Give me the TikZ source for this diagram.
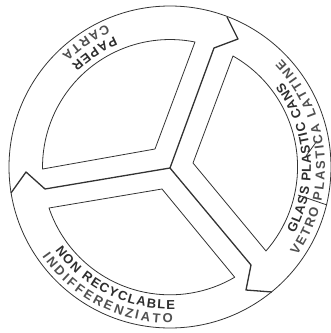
\documentclass[tikz,border=0pt]{standalone}
\usepackage{fontspec}
\usepackage{tikz}
\usetikzlibrary{decorations.text}
\setmainfont{Liberation Sans}
\definecolor{linecol}{HTML}{333333}
\definecolor{labelcol}{HTML}{2E2E2E}
\definecolor{lowercol}{HTML}{505050}
\newcommand{\upperfont}{\bfseries\fontsize{13}{13}\selectfont}
\newcommand{\lowerfont}{\bfseries\fontsize{13}{13}\selectfont\color{lowercol}}
\tikzset{
  % thin outline of ring and panels
  outline/.style={draw=linecol, line width=0.8pt, line join=round},
  % heavier divider between the panels
  divider/.style={draw=linecol, line width=1.3pt, line join=round},
  % one line of lettering along an arc
  ringtext/.style={decoration={text along path, text align=fit to path,
      text color=labelcol, text={#1}}, decorate},
}
\newcommand{\ringlabel}[4]{%
  \path[ringtext={#4}] (#1:#3) arc[start angle=#1, end angle=#2, radius=#3];%
}
\begin{document}
\begin{tikzpicture}[x=1pt,y=1pt]
  \useasboundingbox (-170,-166) rectangle (161,167);
  % ring
  \draw[outline] (0,0) circle[radius=161];
  % panels
  \draw[outline] (25,125) arc[start angle=78.7, end angle=180.9, radius=127.5]
    -- (-15,18) -- cycle;
  \draw[outline] (63,111) arc[start angle=60.4, end angle=-41.2, radius=127.6]
    -- (23,4) -- cycle;
  \draw[outline] (-121,-41) arc[start angle=198.7, end angle=300.4, radius=127.8]
    -- (-8,-22) -- cycle;
  % dividers
  \draw[divider] (57,150) -- (68,128) -- (44,119) -- (0,-1)
    -- (81,-98) -- (76,-123) -- (102,-125);
  \draw[divider] (0,-1) -- (-125,-22) -- (-144,-5) -- (-159,-26);
  % marks across the lettering
  \draw[outline] (128,-28) -- (157,-38);
  \draw[outline] (136,11) -- (147,26);
  % lettering
  \ringlabel{-35}{44}{155}{|\lowerfont|VETRO PLASTICA LATTINE}
  \ringlabel{-28}{37}{141}{|\upperfont|GLASS PLASTIC CANS}
  \ringlabel{215}{271}{156}{|\lowerfont|INDIFFERENZIATO}
  \ringlabel{216}{272}{142}{|\upperfont|NON RECYCLABLE}
  \ringlabel{114}{134}{156}{|\lowerfont|CARTA}
  \ringlabel{113}{134}{142}{|\upperfont|PAPER}
\end{tikzpicture}
\end{document}
